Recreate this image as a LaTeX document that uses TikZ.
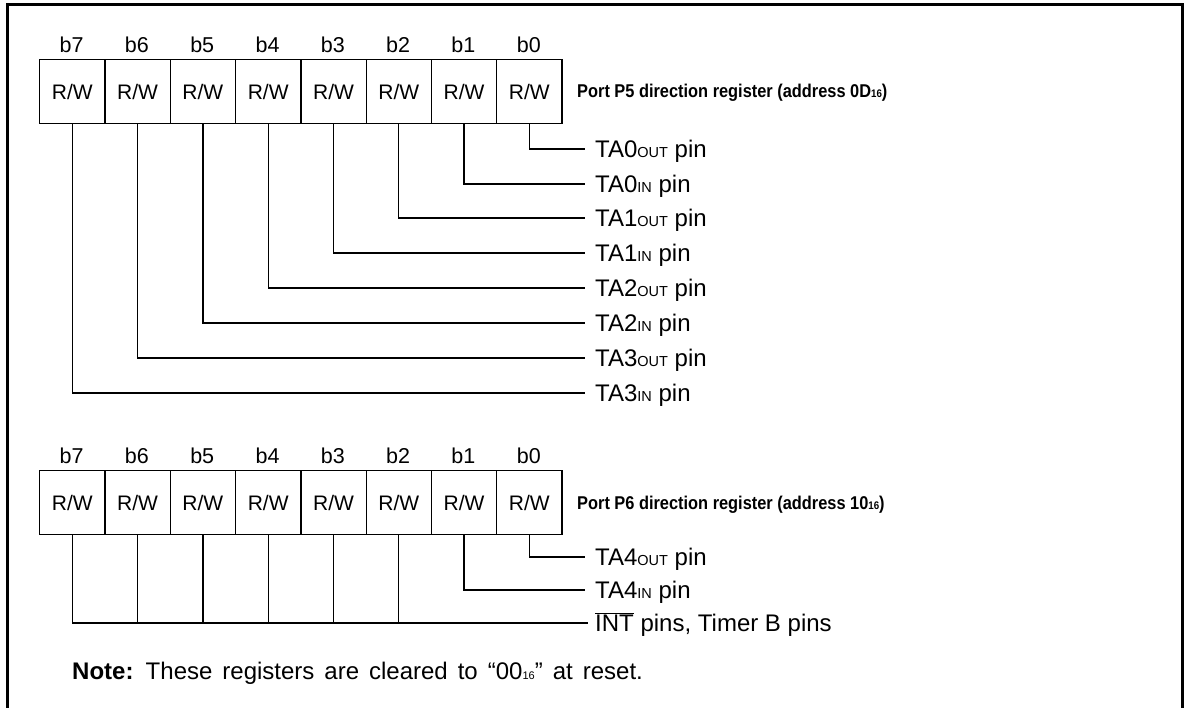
\documentclass[tikz,border=0pt]{standalone}
\usepackage{fontspec}
\setmainfont{Liberation Sans}
\newcommand\smc[1]{{\fontsize{14.5}{14.5}\selectfont #1}}
\newcommand\smt[1]{{\fontsize{11}{11}\selectfont #1}}
\newcommand\regname[1]{\scalebox{0.885}[1]{#1}}
\begin{document}
\begin{tikzpicture}[x=1pt,y=-1pt,
  cell/.style={draw, line width=1.3pt, minimum width=65.3pt, minimum height=64pt,
    inner sep=0pt, anchor=north west, font=\fontsize{21}{21}\selectfont},
  bitlbl/.style={anchor=base, inner sep=0pt, font=\fontsize{21.5}{21.5}\selectfont},
  conn/.style={line width=1.3pt},
  pinlbl/.style={anchor=base west, inner sep=0pt, font=\fontsize{24}{24}\selectfont},
  regtitle/.style={anchor=base west, inner sep=0pt, font=\bfseries\fontsize{18.5}{18.5}\selectfont},
  frame/.style={line width=3pt}]
\useasboundingbox (0,0) rectangle (1185,708);
\draw[frame] (7,712) -- (7,5) -- (1182,5) -- (1182,712);

% ---------- Port P5 register ----------
\foreach \i in {0,...,7} {
  \pgfmathtruncatemacro\b{7-\i}
  \node[cell] (a\b) at ({39+\i*65.3},59) {R/W};
  \node[bitlbl] (la\b) at ({39+(\i+0.5)*65.3},53) {b\b};
}
\node[regtitle] (t5) at (577,98) {\regname{Port P5 direction register (address 0D\smt{16})}};

\foreach \b/\y/\txt in {0/149/TA0\smc{OUT} pin, 1/184/TA0\smc{IN} pin,
    2/218/TA1\smc{OUT} pin, 3/253/TA1\smc{IN} pin, 4/288/TA2\smc{OUT} pin,
    5/323/TA2\smc{IN} pin, 6/358/TA3\smc{OUT} pin, 7/393/TA3\smc{IN} pin} {
  \coordinate (ea\b) at (585,\y);
  \draw[conn] (a\b.south) |- (ea\b);
  \node[pinlbl] (pa\b) at (595,\y+8.6) {\txt};
}

% ---------- Port P6 register ----------
\foreach \i in {0,...,7} {
  \pgfmathtruncatemacro\b{7-\i}
  \node[cell] (c\b) at ({39+\i*65.3},470) {R/W};
  \node[bitlbl] (lc\b) at ({39+(\i+0.5)*65.3},463) {b\b};
}
\node[regtitle] (t6) at (577,509) {\regname{Port P6 direction register (address 10\smt{16})}};

\coordinate (ec0) at (585,557);
\coordinate (ec1) at (585,590);
\coordinate (ec2) at (588,623);
\draw[conn] (c0.south) |- (ec0);
\draw[conn] (c1.south) |- (ec1);
\draw[conn] (c7.south) |- (ec2);
\foreach \b in {2,...,6} {
  \draw[conn] (c\b.south) -- (c\b.south |- ec2);
}
\node[pinlbl] (pc0) at (595,557+8.6) {TA4\smc{OUT} pin};
\node[pinlbl] (pc1) at (595,590+8.6) {TA4\smc{IN} pin};
\node[pinlbl] (pc2) at (595,623+8.6) {$\overline{\hbox{INT}}$ pins, Timer B pins};

% ---------- Note ----------
\node[anchor=base west, inner sep=0pt, font=\fontsize{24}{24}\selectfont] (note) at (72,679)
  {\spaceskip=10pt\textbf{Note:} These registers are cleared to “00\smt{16}” at reset.};
\end{tikzpicture}
\end{document}
